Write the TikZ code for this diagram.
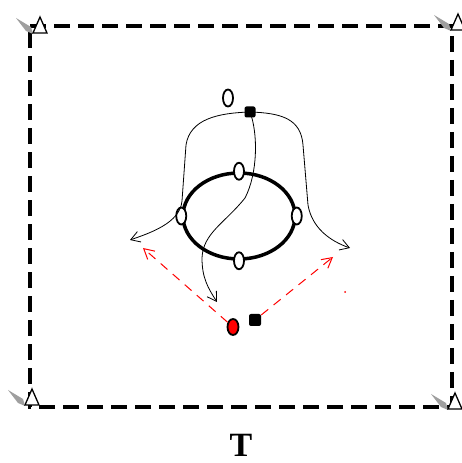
\documentclass[tikz,border=0pt]{standalone}
\usepackage{fontspec}
\setmainfont{Liberation Serif}
\usetikzlibrary{positioning}
\usetikzlibrary{calc}
\usetikzlibrary{arrows.meta}
\usetikzlibrary{shapes.geometric}

\tikzset{
    hole/.style={ellipse, draw, line width=1.8pt, fill=white, minimum width=10pt, minimum height=17pt, inner sep=0pt},
    blob/.style={rectangle, rounded corners=2pt, fill=black, minimum size=11pt, inner sep=0pt},
    flow/.style={line width=0.8pt, -{Straight Barb[length=9pt,width=11pt]}},
    reddash/.style={red, line width=1pt, dash pattern=on 9pt off 7pt, -{Straight Barb[length=10pt,width=11pt]}},
    cornermark/.pic={
        \fill[gray!75] (-24,15) -- (-9,6) -- (-7,-1) -- (-14,2) -- cycle;
        \draw[line width=1.3pt, fill=white] (-7,0) -- (0,16) -- (7,0) -- cycle;
    }
}

\begin{document}
\begin{tikzpicture}[x=1pt, y=1pt]
    \useasboundingbox (0,0) rectangle (462,463);

    % frame
    \coordinate (tl) at (30,437);
    \coordinate (tr) at (452,437);
    \coordinate (br) at (452,56);
    \coordinate (bl) at (30,56);
    \draw[line width=4pt, dash pattern=on 16pt off 8pt] (tl) -- (tr) -- (br) -- (bl) -- cycle;

    \pic at (40,430) {cornermark};
    \pic at (458,433) {cornermark};
    \pic at (32,58) {cornermark};
    \pic at (455,54) {cornermark};

    % ring with holes
    \node[ellipse, draw, line width=3.5pt, minimum width=112pt, minimum height=86pt] (ring) at (239,247) {};

    \node[hole] (h1) at (ring.north) {};
    \node[hole] (h2) at (ring.south) {};
    \node[hole] (h3) at (ring.west) {};
    \node[hole] (h4) at (ring.east) {};

    \node[hole] (zero) at (228,365) {};
    \node[blob] (src) at (250,351) {};

    \coordinate (lend) at (130,223);
    \coordinate (rend) at (350,215);
    \coordinate (mend) at (217,161);

    \draw[flow] (src.center) .. controls (218,350) and (190,344) .. (186,318)
        -- (182,262) .. controls (180,240) and (150,230) .. (lend);
    \draw[flow] (src.center) .. controls (282,350) and (301,344) .. (303,318)
        -- (308,258) .. controls (312,235) and (330,222) .. (rend);
    \draw[flow] (src.center) .. controls (258,330) and (258,290) .. (245,265)
        .. controls (225,240) and (203,230) .. (202,205)
        .. controls (202,185) and (208,175) .. (mend);

    % bottom pair
    \node[ellipse, draw, line width=1.8pt, fill=red, minimum width=11pt, minimum height=16pt, inner sep=0pt] (red) at (233,136) {};
    \node[blob, minimum size=12pt] (blk) at (255,143) {};

    \coordinate (lred) at (143,215);
    \coordinate (rred) at (333,206);
    \draw[reddash] (red) -- (lred);
    \draw[reddash] (blk) -- (rred);
    \fill[red] (345,171) circle (1pt);

    \node[anchor=base, font=\bfseries\fontsize{34}{38}\selectfont] (label) at (241,6) {T};
\end{tikzpicture}
\end{document}
